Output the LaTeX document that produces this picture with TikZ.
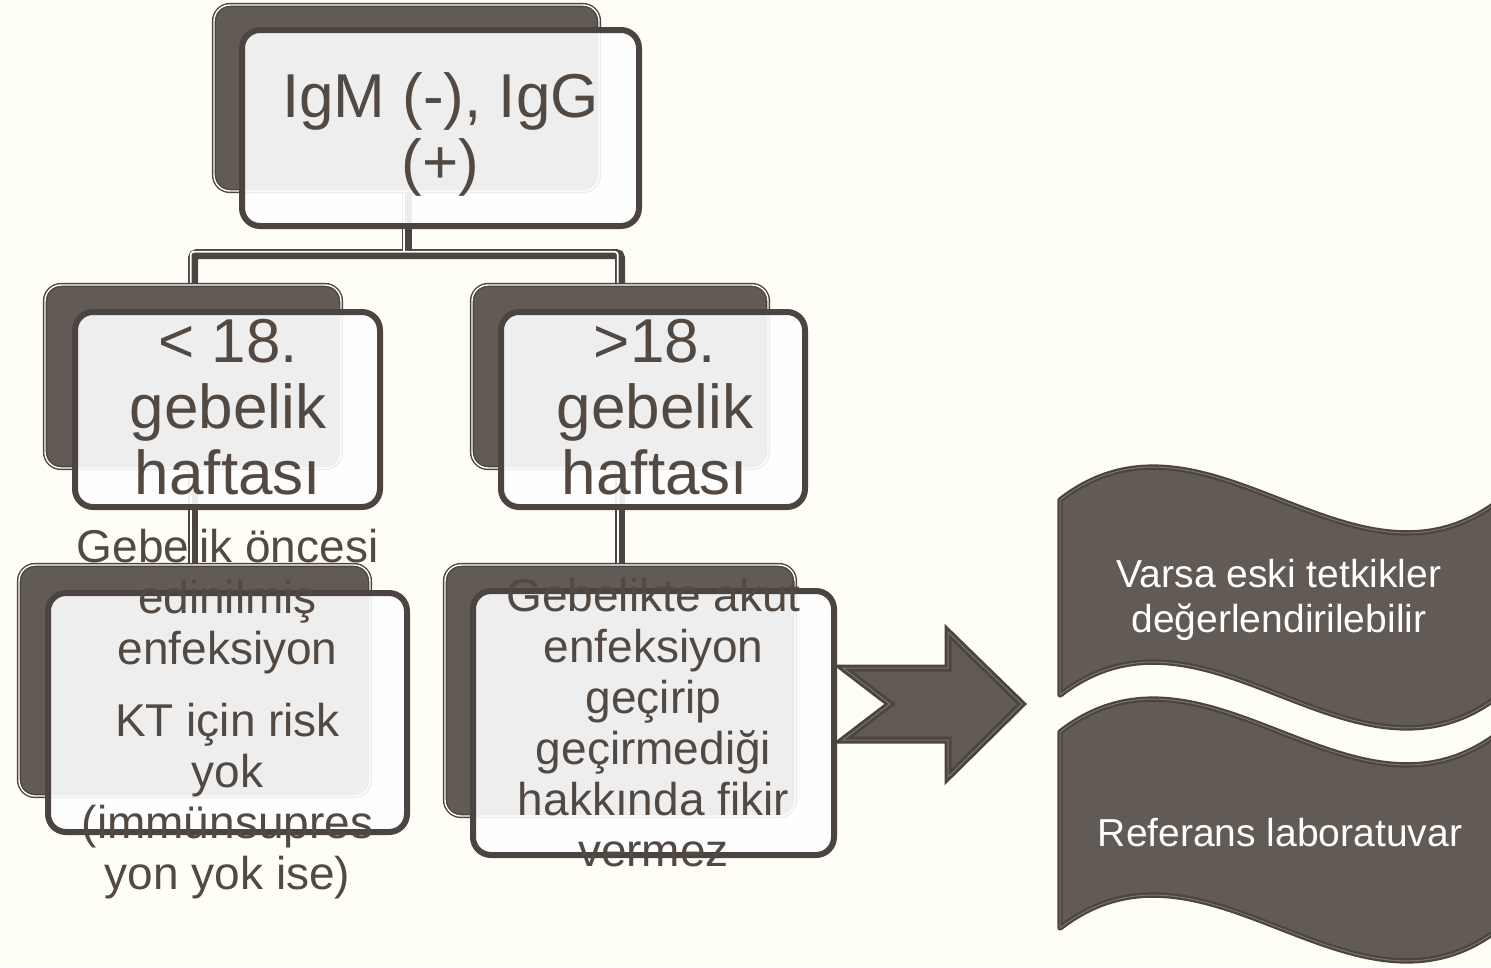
\documentclass[tikz,border=0pt]{standalone}
\usepackage{fontspec}
\setmainfont{Liberation Sans}
\definecolor{bg}{RGB}{254,254,246}
\definecolor{shapefill}{RGB}{98,90,84}
\definecolor{edge}{RGB}{75,68,64}
\definecolor{ink}{RGB}{82,73,67}
\definecolor{waveline}{RGB}{125,116,110}
\tikzset{
  anchorbox/.style={rectangle, inner sep=0pt},
  backbox/.style={rectangle, rounded corners=16pt, fill=shapefill, draw=edge,
    line width=1.4pt, double=white, double distance=1.4pt, inner sep=0pt},
  frontbox/.style={rectangle, rounded corners=18pt, fill=white, fill opacity=0.9,
    draw=edge, line width=6pt, inner sep=0pt},
  innerline/.style={draw=edge, line width=1.3pt, rounded corners=13pt},
  conn/.style={draw=edge, line width=10pt, rounded corners=4pt},
  connhl/.style={draw=white, line width=1.8pt, rounded corners=3pt,
    transform canvas={shift={(-2.3pt,2.3pt)}}},
  bigtext/.style={text=ink, font=\fontsize{62}{66}\selectfont, align=center, inner sep=0pt},
  midtext/.style={text=ink, font=\fontsize{46}{51}\selectfont, align=center, inner sep=0pt},
  wavetext/.style={text=white, font=\fontsize{39}{45}\selectfont, align=center, inner sep=0pt},
  wave/.style={fill=shapefill, draw=edge, line width=2.2pt, double=waveline,
    double distance=1pt, line join=round},
  arrowshape/.style={fill=shapefill, draw=edge, line width=3pt, double=waveline,
    double distance=1pt},
}
\begin{document}
\begin{tikzpicture}[x=1pt, y=-1pt]
  % canvas
  \fill[bg] (0,0) rectangle (1491,967);
  \clip (0,0) rectangle (1491,967);

  % placement of the back boxes
  \node[anchorbox, minimum width=385pt, minimum height=186pt] (tb) at (406.5,98) {};
  \node[anchorbox, minimum width=296pt, minimum height=183pt] (la) at (193,376.5) {};
  \node[anchorbox, minimum width=296pt, minimum height=183pt] (ra) at (620,376.5) {};
  \node[anchorbox, minimum width=351pt, minimum height=231pt] (lb) at (194.5,680.5) {};
  \node[anchorbox, minimum width=350pt, minimum height=251pt] (rb) at (620,690.5) {};
  \coordinate (bus) at (0,254);

  % connectors, drawn underneath the boxes
  \draw[conn] (tb.center) -- (tb.center |- bus);
  \draw[conn] (la.center) |- (tb.center |- bus) -| (ra.center);
  \draw[conn] (la.center) -- (la.center |- lb.center);
  \draw[conn] (ra.center) -- (ra.center |- rb.center);
  \draw[connhl] (tb.center) -- (tb.center |- bus);
  \draw[connhl] (la.center) |- (tb.center |- bus) -| (ra.center);
  \draw[connhl] (la.center) -- (la.center |- lb.center);
  \draw[connhl] (ra.center) -- (ra.center |- rb.center);

  % back boxes
  \node[backbox, minimum width=385pt, minimum height=186pt] at (tb) {};
  \node[backbox, minimum width=296pt, minimum height=183pt] at (la) {};
  \node[backbox, minimum width=296pt, minimum height=183pt] at (ra) {};
  \node[backbox, minimum width=351pt, minimum height=231pt] at (lb) {};
  \node[backbox, minimum width=350pt, minimum height=251pt] at (rb) {};

  % front boxes
  \node[frontbox, minimum width=397pt, minimum height=196pt] (tf) at (440.5,128) {};
  \node[frontbox, minimum width=305pt, minimum height=195pt] (laf) at (227.5,409.5) {};
  \node[frontbox, minimum width=304pt, minimum height=195pt] (raf) at (653,409.5) {};
  \node[frontbox, minimum width=359pt, minimum height=239pt] (lbf) at (227.5,712.5) {};
  \node[frontbox, minimum width=361pt, minimum height=264pt] (rbf) at (653.5,723) {};
  \foreach \f in {tf,laf,raf,lbf,rbf}
    \draw[innerline] ([shift={(5,5)}]\f.north west) rectangle ([shift={(-5,-5)}]\f.south east);

  % box texts
  \node[bigtext] (tt) at (440.5,134.5) {IgM (-), IgG\\(+)};
  \node[bigtext] (lat) at (228,407.5) {< 18.\\gebelik\\haftası};
  \node[bigtext] (rat) at (655,407.5) {>18.\\gebelik\\haftası};
  \node[midtext] (lbt) at (227.5,714.5)
    {Gebelik öncesi\\edinilmiş\\enfeksiyon\\[21pt]KT için risk\\yok\\(immünsupres\\yon yok ise)};
  \node[midtext] (rbt) at (653.5,722.5)
    {Gebelikte akut\\enfeksiyon\\geçirip\\geçirmediği\\hakkında fikir\\vermez};

  % notched arrow
  \draw[arrowshape] (843,668) -- (948,668) -- (948,632) -- (1022,704) -- (948,777)
    -- (948,740) -- (843,740) -- (890,704) -- cycle;

  % wave banners
  \draw[wave] (1060,500) .. controls (1207,386) and (1353,614) .. (1500,500)
    -- (1500,695) .. controls (1353,809) and (1207,581) .. (1060,695) -- cycle;
  \draw[wave] (1060,732) .. controls (1207,618) and (1353,846) .. (1500,732)
    -- (1500,928) .. controls (1353,1042) and (1207,814) .. (1060,928) -- cycle;
  \node[wavetext] (w1t) at (1279,600) {Varsa eski tetkikler\\değerlendirilebilir};
  \node[wavetext] (w2t) at (1280,833) {Referans laboratuvar};
\end{tikzpicture}
\end{document}
